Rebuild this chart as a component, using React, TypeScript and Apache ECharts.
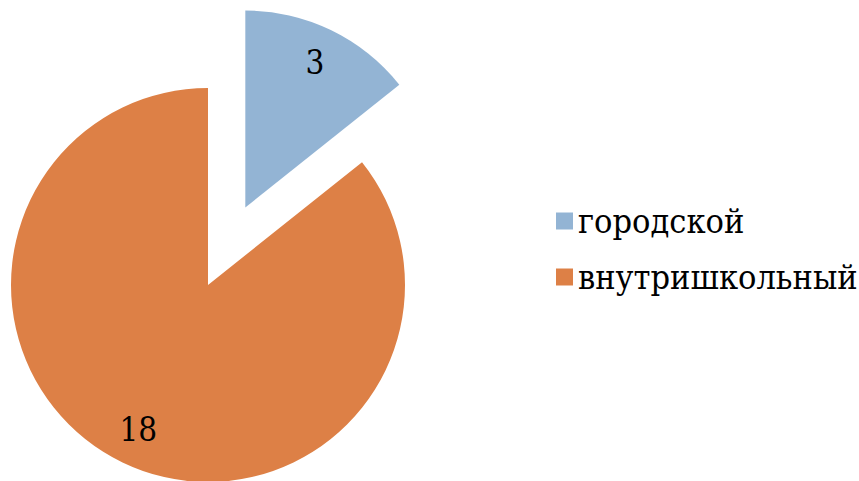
import React, { useEffect, useRef } from "react";
import * as echarts from "echarts";

const categories = ["городской", "внутришкольный"];
const values = [3, 18];
const colors = ["#93B4D4", "#DD8046"];
const explodedIndex = 0;

const SERIF = "'DejaVu Serif Condensed', 'DejaVu Serif', serif";

export default function App() {
  const ref = useRef<HTMLDivElement>(null);
  useEffect(() => {
    document.body.style.margin = "0";
    const chart = echarts.init(ref.current!, null, { renderer: "svg" });
    const R = 197;
    const center = [208, 285];
    const makeData = (withColor: boolean) =>
      categories.map((name, i) => ({
        name,
        value: values[i],
        selected: i === explodedIndex,
        itemStyle: { color: withColor ? colors[i] : "rgba(0,0,0,0)" },
        select: { itemStyle: { color: withColor ? colors[i] : "rgba(0,0,0,0)" } },
      }));
    chart.setOption({
      animation: false,
      legend: {
        orient: "vertical",
        left: 551,
        top: 196,
        itemWidth: 17,
        itemHeight: 17,
        itemGap: 16,
        itemTextGap: 8,
        icon: "rect",
        selectedMode: false,
        textStyle: {
          fontFamily: SERIF,
          fontSize: 34,
          color: "#000",
          lineHeight: 40,
        },
        data: categories,
      },
      series: [
        {
          type: "pie",
          center,
          radius: [0, R],
          startAngle: 90,
          clockwise: true,
          selectedMode: "single",
          selectedOffset: 86,
          emphasis: { disabled: true },
          label: { show: false },
          labelLine: { show: false },
          data: makeData(true),
        },
        {
          type: "pie",
          center,
          radius: [R * 0.6, R],
          startAngle: 90,
          clockwise: true,
          silent: true,
          selectedMode: "single",
          selectedOffset: 86,
          emphasis: { disabled: true },
          label: {
            show: true,
            position: "inside",
            formatter: "{c}",
            fontFamily: SERIF,
            fontSize: 33,
            color: "#000",
          },
          labelLine: { show: false },
          data: makeData(false),
        },
      ],
    });
    return () => chart.dispose();
  }, []);
  return <div ref={ref} style={{ width: 859, height: 481 }} />;
}
